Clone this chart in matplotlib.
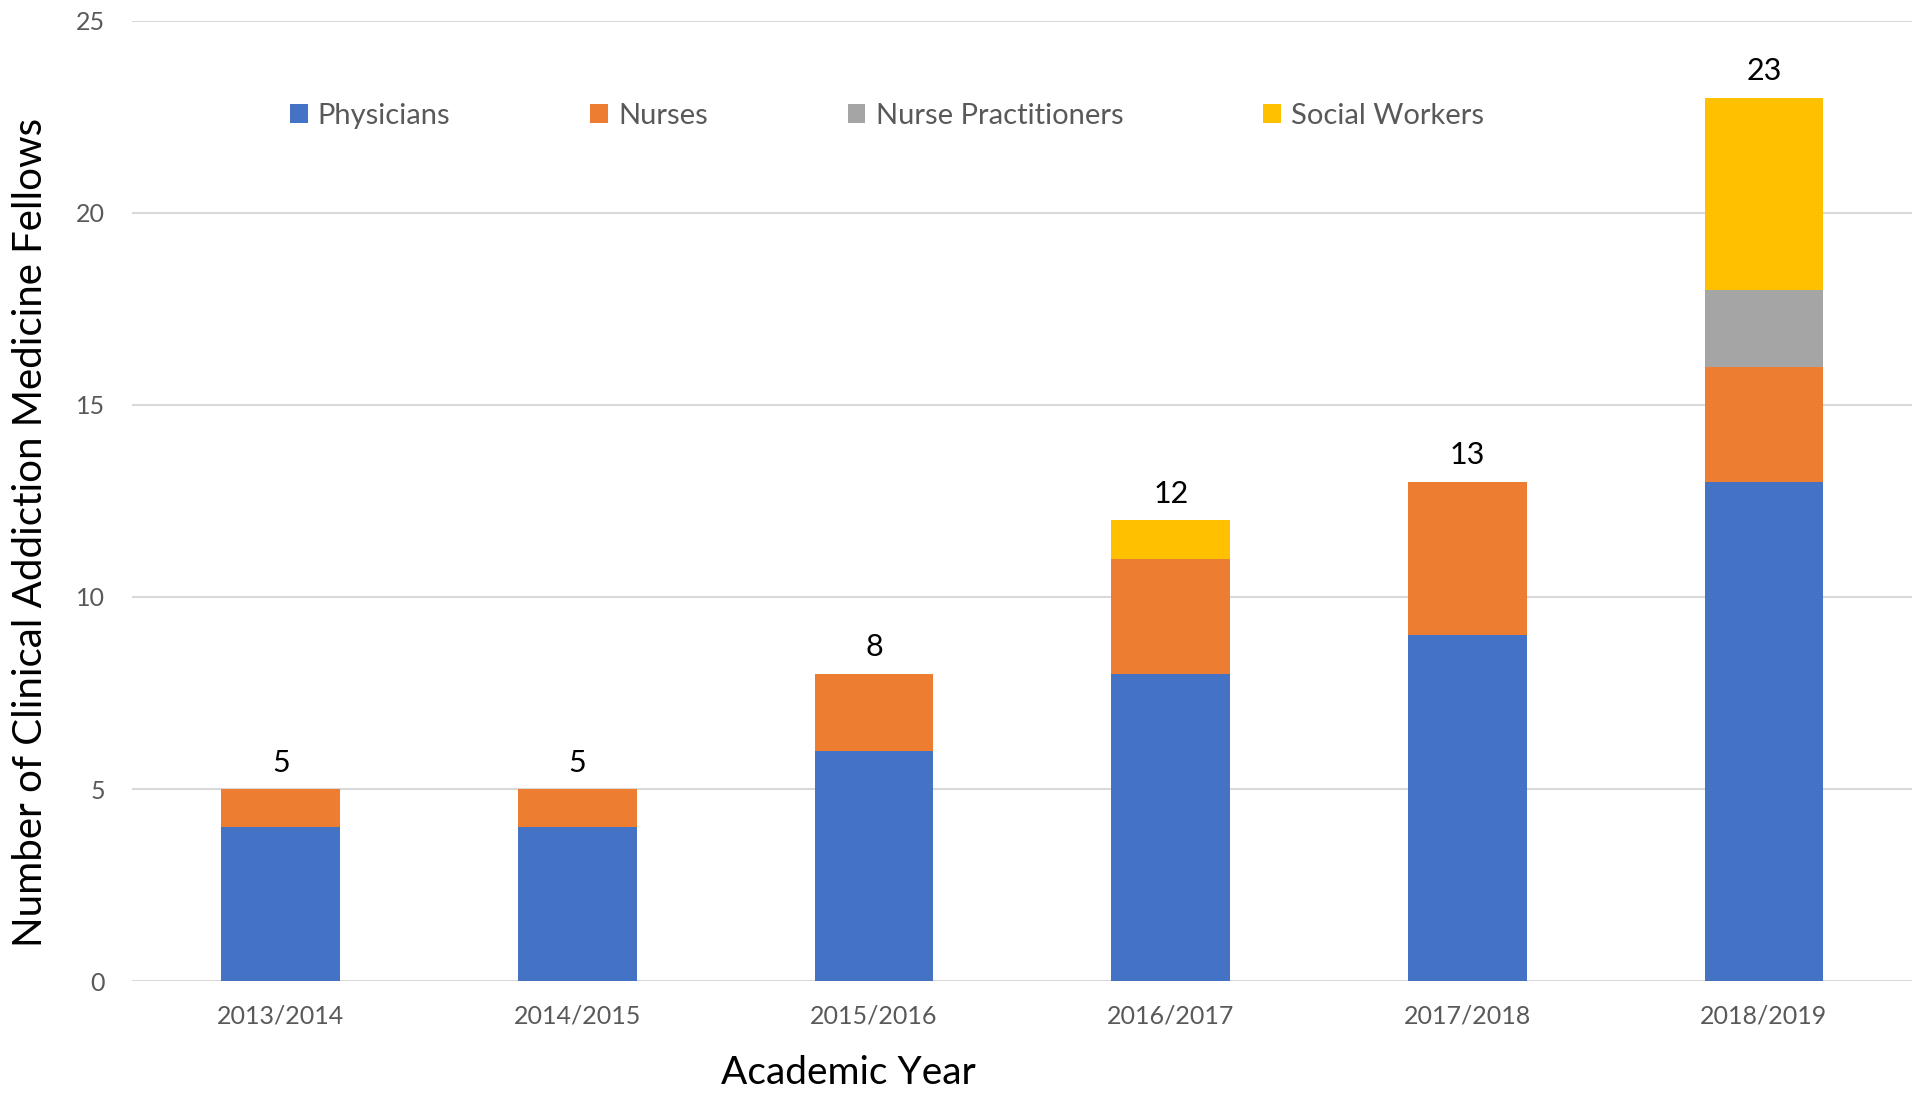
import numpy as np
import matplotlib
matplotlib.use("Agg")
from matplotlib import pyplot as plt

# data
years = ["2013/2014", "2014/2015", "2015/2016", "2016/2017", "2017/2018", "2018/2019"]
physicians = [4, 4, 6, 8, 9, 13]
nurses = [1, 1, 2, 3, 4, 3]
nurse_practitioners = [0, 0, 0, 0, 0, 2]
social_workers = [0, 0, 0, 1, 0, 5]

series = [
    ("Physicians", physicians, "#4472C4"),
    ("Nurses", nurses, "#ED7D31"),
    ("Nurse Practitioners", nurse_practitioners, "#A5A5A5"),
    ("Social Workers", social_workers, "#FFC000"),
]

plt.rcParams["font.family"] = ["Lato", "DejaVu Sans"]

fig = plt.figure(figsize=(19.2, 10.95), dpi=100)
ax = fig.add_axes([0.069, 0.104, 0.927, 0.877])

x = np.arange(len(years))
bottom = np.zeros(len(years))
for name, vals, color in series:
    ax.bar(x, vals, width=0.4, bottom=bottom, color=color, label=name, zorder=3)
    bottom += np.array(vals)

# totals above bars
for xi, tot in zip(x, bottom):
    ax.annotate(f"{int(tot)}", (xi, tot), xytext=(0, 9), textcoords="offset points",
                ha="center", va="bottom", fontsize=22, color="#000000")

ax.set_xlim(-0.5, len(years) - 0.5)
ax.set_ylim(0, 25)
ax.set_yticks([0, 5, 10, 15, 20, 25])
ax.set_xticks(x)
ax.set_xticklabels(years)
ax.grid(axis="y", color="#D9D9D9", linewidth=1.5, zorder=0)
for s in ax.spines.values():
    s.set_visible(False)
ax.tick_params(axis="both", length=0, labelsize=18, labelcolor="#595959")
ax.tick_params(axis="x", pad=17)
ax.tick_params(axis="y", pad=20)

ax.set_ylabel("Number of Clinical Addiction Medicine Fellows", fontsize=29, color="#000000")
ax.yaxis.set_label_coords(-0.047, 0.467)
fig.text(848 / 1920, 1 - 1073 / 1095, "Academic Year", fontsize=28, ha="center", va="center")

ax.legend(loc="center", bbox_to_anchor=(887 / 1920, 1 - 116 / 1095),
          bbox_transform=fig.transFigure, ncol=4, frameon=False, fontsize=21,
          labelcolor="#595959", handlelength=0.6, handleheight=0.6,
          handletextpad=0.35, columnspacing=4.8)

fig.savefig("out.png", dpi=100)
